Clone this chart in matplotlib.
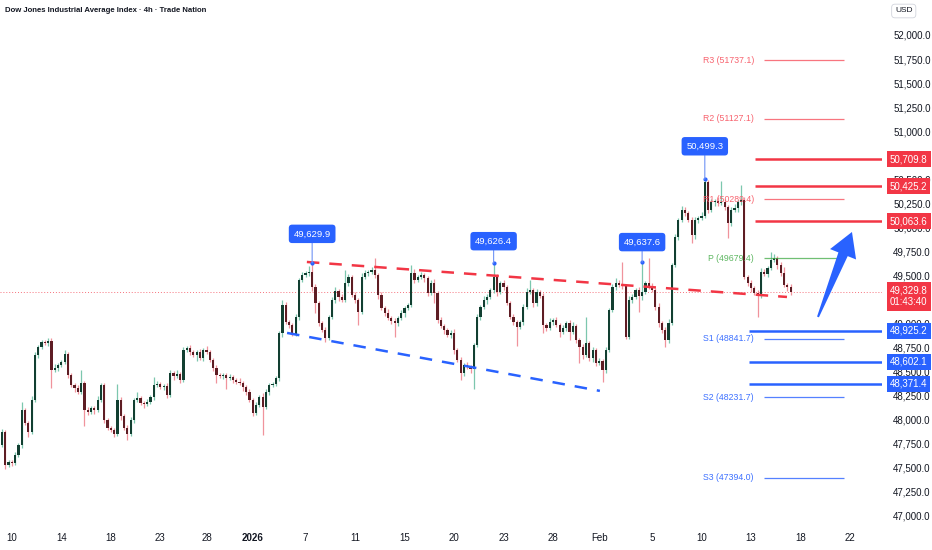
import numpy as np
import matplotlib.pyplot as plt
from matplotlib.transforms import blended_transform_factory
from matplotlib.patches import Polygon

plt.rcParams['font.family'] = ['Liberation Sans', 'DejaVu Sans']

# 4h-Kerzen (Schlusskurse), Eröffnung = vorheriger Schluss
first_open = 47740
closes = [
    47871, 47528, 47559, 47549, 47632, 47736, 48100, 47965, 47871, 48204,
    48672, 48755, 48807, 48797, 48818, 48516, 48537, 48568, 48599, 48682,
    48464, 48360, 48329, 48287, 48381, 48100, 48079, 48121, 48100, 48204,
    48360, 47996, 47913, 47892, 47850, 48204, 48038, 47913, 47850, 47996,
    48204, 48225, 48173, 48162, 48183, 48235, 48360, 48370, 48339, 48350,
    48256, 48485, 48454, 48474, 48412, 48724, 48745, 48703, 48672, 48703,
    48641, 48724, 48703, 48620, 48537, 48464, 48454, 48464, 48433, 48443,
    48412, 48391, 48381, 48339, 48287, 48204, 48069, 48152, 48235, 48131,
    48287, 48360, 48370, 48433, 48901, 49192, 49015, 48984, 48890, 49067,
    49452, 49504, 49525, 49535, 49379, 49213, 49005, 48932, 48849, 49067,
    49244, 49338, 49275, 49244, 49421, 49483, 49296, 49244, 49119, 49483,
    49525, 49535, 49556, 49504, 49296, 49161, 49109, 49057, 49026, 49005,
    49057, 49109, 49161, 49192, 49525, 49452, 49483, 49504, 49473, 49317,
    49421, 49317, 49036, 48974, 48932, 48880, 48901, 48724, 48620, 48485,
    48568, 48547, 48526, 48776, 49067, 49171, 49244, 49275, 49348, 49483,
    49327, 49421, 49379, 49213, 49067, 49015, 48963, 49015, 49171, 49327,
    49348, 49213, 49327, 49286, 48984, 48953, 49015, 49036, 48984, 48911,
    48953, 49005, 48911, 48974, 48828, 48755, 48672, 48797, 48641, 48724,
    48589, 48610, 48516, 48724, 49140, 49379, 49421, 49400, 49390, 48859,
    49244, 49275, 49348, 49286, 49327, 49421, 49390, 49348, 49171, 49005,
    48932, 48828, 49005, 49608, 49899, 50076, 50180, 50149, 50076, 49920,
    50076, 50097, 50118, 50471, 50180, 50263, 50274, 50253, 50263, 50211,
    50045, 50180, 50201, 50263, 50284, 49483, 49421, 49369, 49317, 49296,
    49535, 49514, 49577, 49660, 49681, 49608, 49525, 49400, 49379, 49329.8,
]
upper_wick = [
    30, 25, 20, 25, 30, 25, 80, 25, 20, 40,
    30, 20, 25, 20, 30, 25, 40, 20, 25, 40,
    20, 25, 20, 30, 135, 25, 30, 20, 25, 40,
    25, 20, 25, 20, 25, 170, 30, 20, 25, 30,
    25, 60, 20, 25, 30, 25, 80, 30, 25, 20,
    25, 30, 25, 40, 20, 30, 25, 30, 20, 25,
    30, 25, 40, 20, 25, 30, 25, 20, 25, 30,
    25, 20, 40, 25, 20, 30, 25, 30, 25, 40,
    30, 25, 20, 25, 20, 50, 30, 25, 20, 30,
    20, 30, 25, 60, 95, 30, 25, 20, 30, 25,
    30, 40, 25, 30, 130, 30, 25, 30, 20, 40,
    30, 25, 30, 125, 25, 30, 20, 40, 25, 30,
    25, 30, 20, 25, 83, 40, 25, 30, 25, 20,
    30, 40, 25, 30, 20, 25, 30, 40, 25, 30,
    25, 30, 20, 25, 30, 25, 40, 30, 25, 143,
    30, 25, 30, 20, 25, 30, 25, 20, 30, 40,
    100, 25, 30, 20, 30, 25, 40, 25, 30, 20,
    30, 25, 30, 40, 20, 25, 30, 270, 25, 30,
    25, 30, 20, 30, 25, 30, 50, 30, 240, 20,
    40, 30, 25, 30, 310, 25, 260, 30, 25, 40,
    25, 30, 40, 20, 30, 25, 40, 30, 25, 30,
    30, 25, 40, 28, 20, 30, 25, 40, 218, 30,
    25, 30, 40, 25, 155, 30, 25, 30, 20, 30,
    40, 30, 25, 80, 40, 25, 30, 60, 25, 35,
]
lower_wick = [
    30, 40, 25, 30, 20, 25, 30, 25, 50, 20,
    25, 30, 20, 25, 30, 190, 25, 30, 20, 25,
    30, 25, 40, 25, 20, 170, 30, 25, 40, 20,
    25, 30, 20, 25, 30, 25, 40, 20, 60, 25,
    30, 25, 20, 40, 25, 20, 30, 25, 20, 30,
    30, 25, 40, 20, 30, 25, 20, 30, 25, 60,
    25, 30, 20, 25, 30, 80, 25, 30, 120, 25,
    30, 20, 25, 40, 30, 25, 30, 20, 25, 290,
    25, 30, 20, 25, 30, 40, 25, 30, 20, 25,
    30, 25, 20, 30, 40, 100, 30, 25, 40, 20,
    25, 30, 40, 25, 20, 30, 25, 30, 135, 25,
    20, 30, 25, 30, 40, 25, 30, 25, 30, 150,
    30, 25, 40, 20, 25, 30, 25, 20, 40, 30,
    25, 100, 30, 25, 40, 20, 30, 40, 25, 70,
    30, 25, 40, 210, 25, 30, 20, 40, 25, 30,
    40, 25, 30, 20, 25, 30, 200, 25, 30, 20,
    25, 40, 30, 25, 85, 30, 25, 30, 20, 50,
    25, 30, 80, 25, 30, 165, 40, 25, 30, 40,
    30, 25, 130, 30, 25, 20, 30, 25, 30, 20,
    25, 30, 20, 165, 40, 25, 30, 20, 30, 40,
    30, 70, 30, 25, 20, 30, 25, 30, 20, 85,
    40, 30, 25, 20, 30, 25, 40, 30, 25, 30,
    155, 30, 25, 40, 30, 25, 30, 40, 25, 230,
    30, 25, 30, 20, 25, 40, 30, 25, 40, 30,
]

# Zeitachse
tick_pos = [3, 18, 33, 48, 62, 76, 92, 107, 122, 137, 152, 167, 181, 197, 212, 227, 242, 257]
tick_labels = ['10', '14', '18', '23', '28', '2026', '7', '11', '15', '20', '23', '28',
               'Feb', '5', '10', '13', '18', '22']

# Niveaus
red_levels = [50709.8, 50425.2, 50063.6]
blue_levels = [48925.2, 48602.1, 48371.4]
pivot_names = ['R3', 'R2', 'R1', 'P', 'S1', 'S2', 'S3']
pivot_values = [51737.1, 51127.1, 50289.4, 49679.4, 48841.7, 48231.7, 47394.0]
last_price = 49329.8
countdown = '01:43:40'
hidden_ticks = [50750, 49250]  # von Preisschildern verdeckt

# Hochpunkt-Markierungen: (Kerze, Kurs, Abstand in Pixel)
callouts = [(94, 49629.9, 29), (149, 49626.4, 22), (194, 49637.6, 20), (213, 50499.3, 33)]

# Trendlinien (Kerze, Kurs)
upper_trend = [(92.4, 49639), (237.9, 49275)]
lower_trend = [(86.4, 48901), (181.2, 48298)]
arrow_tail = (247.3, 49067)
arrow_tip = (257.6, 49951)

RED = '#f23645'
BLUE = '#2962ff'
TXT = '#131722'

closes = np.array(closes, dtype=float)
opens = np.concatenate([[first_open], closes[:-1]])
highs = np.maximum(opens, closes) + np.array(upper_wick)
lows = np.minimum(opens, closes) - np.array(lower_wick)
x = np.arange(len(closes))
up = closes >= opens

fig = plt.figure(figsize=(9.32, 5.5), dpi=100)
ax = fig.add_axes([0, 25 / 550, 882 / 932, 525 / 550])
ax.set_xlim(-0.6, 266.7)
ax.set_ylim(46903, 52364)

# Kerzen
wick_col = np.where(up, '#7cc7ae', '#f0939c')
body_col = np.where(up, '#123f31', '#5e1d24')
ax.vlines(x, lows, highs, colors=wick_col, linewidth=0.9, zorder=2)
body_h = np.maximum(np.abs(closes - opens), 8)
ax.bar(x, body_h, bottom=np.minimum(opens, closes), width=0.66, color=body_col, zorder=3)

# aktueller Kurs
ax.axhline(last_price, color=RED, linestyle=(0, (1, 2)), linewidth=0.7, alpha=0.7, zorder=1)

# Trendlinien
ax.plot(*zip(*upper_trend), color=RED, linestyle=(0, (5, 4)), linewidth=1.8, zorder=4)
ax.plot(*zip(*lower_trend), color=BLUE, linestyle=(0, (5, 4)), linewidth=1.8, zorder=4)

# Widerstände / Unterstützungen
for lv in red_levels:
    ax.hlines(lv, 228.2, 266.7, color=RED, linewidth=1.8, zorder=4)
for lv in blue_levels:
    ax.hlines(lv, 226.4, 266.7, color=BLUE, linewidth=1.8, zorder=4)

# Pivotpunkte
for name, val in zip(pivot_names, pivot_values):
    if name.startswith('R'):
        c = '#f7525f'
    elif name == 'P':
        c = '#4caf50'
    else:
        c = '#2962ff'
    ax.hlines(val, 230.9, 255.1, color=c, linewidth=0.9, alpha=0.8, zorder=4)
    ax.text(227.9, val, f'{name} ({val:.1f})', color=c, fontsize=6.3, alpha=0.9,
            ha='right', va='center', zorder=4)

# Hochpunkt-Beschriftungen
for bar, price, off in callouts:
    ax.plot(bar, price, 'o', color=BLUE, markersize=2, zorder=5)
    ax.annotate(f'{price:,.1f}', xy=(bar, price), xytext=(0, off), textcoords='offset pixels',
                ha='center', va='center', color='white', fontsize=6.8, zorder=6,
                bbox=dict(boxstyle='round,pad=0.5,rounding_size=0.35', fc=BLUE, ec='none'),
                arrowprops=dict(arrowstyle='-', color='#6f93f5', lw=0.8, shrinkA=0, shrinkB=0))

# Pfeil
fig.canvas.draw()
p0 = ax.transData.transform(arrow_tail)
p1 = ax.transData.transform(arrow_tip)
d = p1 - p0
u = d / np.hypot(*d)
n = np.array([-u[1], u[0]])
hb = p1 - u * 24
pts = [p0 + n * 1, hb + n * 5, hb + n * 14, p1, hb - n * 14, hb - n * 5, p0 - n * 1]
ax.add_patch(Polygon(ax.transData.inverted().transform(pts), closed=True, fc=BLUE, ec='none', zorder=6))

# Achsen
for s in ax.spines.values():
    s.set_visible(False)
ax.set_xticks(tick_pos)
ax.set_xticklabels(tick_labels)
for lab in ax.get_xticklabels():
    if lab.get_text() == '2026':
        lab.set_fontweight('bold')
yt = np.arange(47000, 52001, 250)
ax.set_yticks(yt)
ax.set_yticklabels(['' if v in hidden_ticks else f'{v:,.1f}' for v in yt])
ax.yaxis.tick_right()
ax.tick_params(axis='both', length=0, labelsize=7, labelcolor=TXT)
ax.tick_params(axis='y', pad=8)
ax.tick_params(axis='x', pad=6)

# Preisschilder rechts
tr = blended_transform_factory(ax.transAxes, ax.transData)
xl = 890 / 882
for lv in red_levels:
    ax.text(xl, lv, f'{lv:,.1f}', transform=tr, color='white', fontsize=7, va='center', ha='left',
            clip_on=False, zorder=7, bbox=dict(boxstyle='square,pad=0.3', fc=RED, ec='none'))
for lv in blue_levels:
    ax.text(xl, lv, f'{lv:,.1f}', transform=tr, color='white', fontsize=7, va='center', ha='left',
            clip_on=False, zorder=7, bbox=dict(boxstyle='square,pad=0.3', fc=BLUE, ec='none'))
ax.text(xl, last_price + 62, f'{last_price:,.1f}\n{countdown}', transform=tr, color='white',
        fontsize=7, va='top', ha='left', linespacing=1.2, clip_on=False, zorder=7,
        bbox=dict(boxstyle='square,pad=0.35', fc=RED, ec='none'))

# Titel und Währung
fig.text(5 / 932, 1 - 11 / 550, 'Dow Jones Industrial Average Index · 4h · Trade Nation',
         fontsize=5.6, fontweight='bold', color=TXT, va='center', ha='left')
fig.text(895 / 932, 1 - 11 / 550, 'USD', fontsize=6, color=TXT, va='center', ha='left',
         bbox=dict(boxstyle='round,pad=0.4', fc='white', ec='#d1d4dc', lw=0.6))

fig.savefig('out.png', dpi=100)
